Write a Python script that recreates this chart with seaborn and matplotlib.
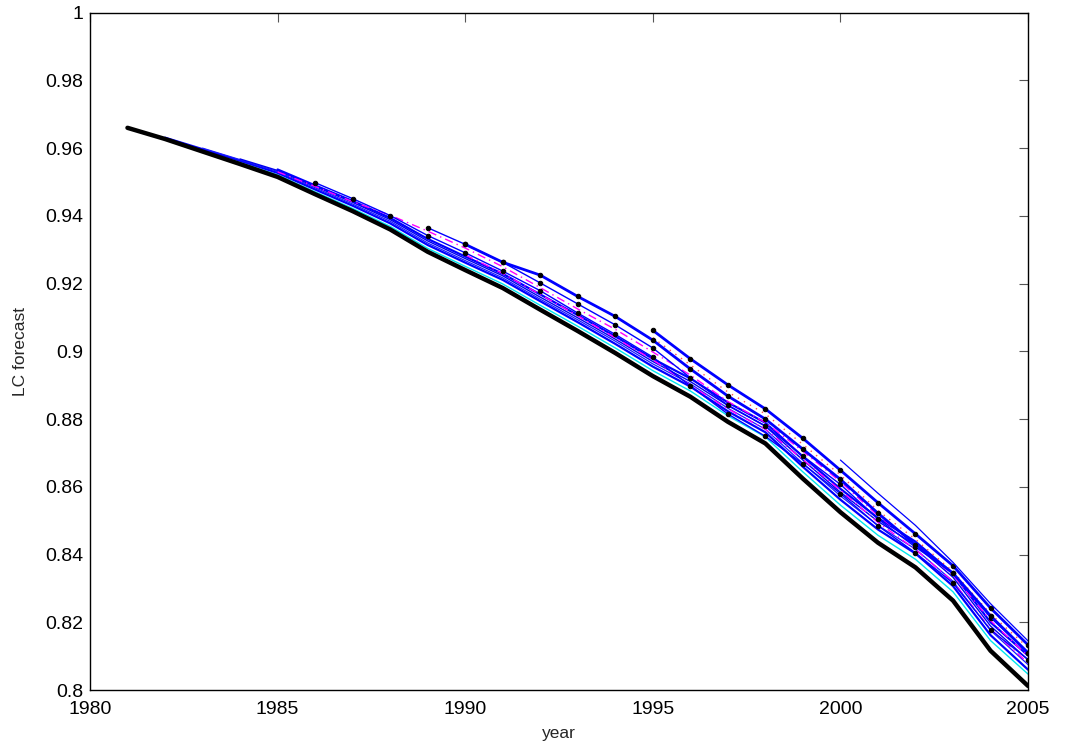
import matplotlib
matplotlib.use("Agg")
import matplotlib.pyplot as plt
import seaborn as sns
import pandas as pd

# ---- data ----
years_actual = list(range(1981, 2006))
actual = [0.9660, 0.9627, 0.9590, 0.9553, 0.9515, 0.9464, 0.9414, 0.9360, 0.9294, 0.9240,
          0.9187, 0.9123, 0.9060, 0.8995, 0.8927, 0.8866, 0.8792, 0.8728, 0.8624, 0.8525,
          0.8435, 0.8362, 0.8264, 0.8116, 0.8012]

cyan_years = list(range(1982, 2006))
cyan_vals = [0.9629, 0.9594, 0.9558, 0.9521, 0.9471, 0.9422, 0.9369, 0.9304, 0.9251, 0.9199,
             0.9136, 0.9074, 0.9010, 0.8943, 0.8883, 0.8810, 0.8747, 0.8644, 0.8546, 0.8457,
             0.8386, 0.8290, 0.8146, 0.8047]

b1_years = list(range(1982, 2006))
b1_vals = [0.9631, 0.9597, 0.9563, 0.9527, 0.9478, 0.9430, 0.9378, 0.9314, 0.9262, 0.9211,
           0.9148, 0.9086, 0.9022, 0.8955, 0.8896, 0.8823, 0.8761, 0.8659, 0.8562, 0.8474,
           0.8403, 0.8307, 0.8162, 0.8060]

b2_years = list(range(1983, 2006))
b2_vals = [0.9600, 0.9566, 0.9531, 0.9483, 0.9435, 0.9384, 0.9320, 0.9268, 0.9217, 0.9154,
           0.9093, 0.9030, 0.8963, 0.8904, 0.8832, 0.8770, 0.8669, 0.8573, 0.8486, 0.8416,
           0.8321, 0.8176, 0.8075]

b3_years = list(range(1984, 2006))
b3_vals = [0.9568, 0.9534, 0.9487, 0.9440, 0.9389, 0.9326, 0.9274, 0.9223, 0.9160, 0.9099,
           0.9036, 0.8970, 0.8911, 0.8840, 0.8779, 0.8679, 0.8584, 0.8498, 0.8428, 0.8333,
           0.8189, 0.8089]

b4_years = list(range(1985, 2006))
b4_vals = [0.9537, 0.9490, 0.9444, 0.9394, 0.9332, 0.9280, 0.9229, 0.9168, 0.9107, 0.9044,
           0.8978, 0.8920, 0.8849, 0.8789, 0.8689, 0.8594, 0.8508, 0.8438, 0.8344, 0.8200,
           0.8102]

m1_years = list(range(1985, 2006))
m1_vals = [0.9530, 0.9487, 0.9442, 0.9402, 0.9355, 0.9305, 0.9250, 0.9188, 0.9125, 0.9065,
           0.8998, 0.8930, 0.8852, 0.8790, 0.8705, 0.8615, 0.8515, 0.8430, 0.8340, 0.8205,
           0.8100]

m2_years = list(range(1990, 2006))
m2_vals = [0.9285, 0.9230, 0.9168, 0.9105, 0.9040, 0.8975, 0.8900, 0.8830, 0.8770, 0.8680,
           0.8590, 0.8495, 0.8415, 0.8320, 0.8180, 0.8080]

red_years = list(range(1995, 2006))
red_vals = [0.9040, 0.8960, 0.8880, 0.8815, 0.8725, 0.8635, 0.8530, 0.8445, 0.8350, 0.8225,
            0.8125]

d1_years = list(range(1986, 2006))
d1_vals = [0.9498, 0.9451, 0.9401, 0.9342, 0.9291, 0.9237, 0.9179, 0.9113, 0.9050, 0.8983,
           0.8898, 0.8815, 0.8749, 0.8668, 0.8580, 0.8485, 0.8405, 0.8316, 0.8178, 0.8090]

d2_years = list(range(1989, 2006))
d2_vals = [0.9365, 0.9316, 0.9263, 0.9202, 0.9140, 0.9078, 0.9010, 0.8922, 0.8841, 0.8780,
           0.8691, 0.8607, 0.8505, 0.8422, 0.8345, 0.8214, 0.8110]

d3_years = list(range(1990, 2006))
d3_vals = [0.9316, 0.9263, 0.9225, 0.9162, 0.9103, 0.9033, 0.8948, 0.8868, 0.8800, 0.8711,
           0.8622, 0.8522, 0.8429, 0.8345, 0.8219, 0.8110]

d4_years = list(range(1995, 2006))
d4_vals = [0.9062, 0.8978, 0.8901, 0.8830, 0.8743, 0.8649, 0.8553, 0.8461, 0.8367, 0.8242,
           0.8133]

t_years = list(range(2000, 2006))
t_vals = [0.8679, 0.8581, 0.8486, 0.8377, 0.8255, 0.8145]

x_ticks = [1980, 1985, 1990, 1995, 2000, 2005]
y_ticks = [0.8, 0.82, 0.84, 0.86, 0.88, 0.9, 0.92, 0.94, 0.96, 0.98, 1.0]
y_ticklabels = ["0.8", "0.82", "0.84", "0.86", "0.88", "0.9", "0.92", "0.94", "0.96", "0.98", "1"]

# ---- plot ----
sns.set_style("white")
plt.rcParams["font.family"] = ["Liberation Sans", "DejaVu Sans"]

fig = plt.figure(figsize=(10.67, 7.45), dpi=100)
ax = fig.add_axes([0.0843, 0.0738, 0.8792, 0.9092])

def draw(xs, ys, **kw):
    df = pd.DataFrame({"year": xs, "value": ys})
    sns.lineplot(data=df, x="year", y="value", ax=ax, estimator=None, sort=False, **kw)

draw(cyan_years, cyan_vals, color="#00e5ee", linewidth=1.0)
draw(b1_years, b1_vals, color="#0000ff", linewidth=1.6)
draw(b2_years, b2_vals, color="#1a1aff", linewidth=0.9)
draw(b3_years, b3_vals, color="#0000ee", linewidth=1.0)
draw(b4_years, b4_vals, color="#0000ff", linewidth=1.6)
draw(m2_years, m2_vals, color="#ff00ff", linewidth=1.0, linestyle=(0, (6, 3, 1, 3)))
draw(m1_years, m1_vals, color="#ff00ff", linewidth=1.0, linestyle=(0, (6, 3, 1, 3)))
draw(red_years, red_vals, color="#ff5050", linewidth=1.0, linestyle=(0, (1, 4)))
for xs, ys, lw in [(d1_years, d1_vals, 1.0), (d2_years, d2_vals, 1.0),
                   (d3_years, d3_vals, 2.0), (d4_years, d4_vals, 2.0)]:
    draw(xs, ys, color="#0000ff", linewidth=lw, marker="o", markersize=3.2,
         markerfacecolor="black", markeredgecolor="black")
draw(t_years, t_vals, color="#0000ff", linewidth=0.9)
draw(years_actual, actual, color="black", linewidth=3.2)

ax.set_xlim(1980, 2005)
ax.set_ylim(0.8, 1.0)
ax.set_xticks(x_ticks)
ax.set_xticklabels([str(v) for v in x_ticks])
ax.set_yticks(y_ticks)
ax.set_yticklabels(y_ticklabels)
ax.tick_params(direction="in", length=6.5, width=0.8, color="#555555",
               top=True, right=True, labelsize=14, labelcolor="black")
ax.tick_params(axis="x", pad=8)
ax.tick_params(axis="y", pad=5)
for s in ax.spines.values():
    s.set_visible(True)
    s.set_color("black")
    s.set_linewidth(1.0)
ax.set_xlabel("year", fontsize=12.5, labelpad=6)
ax.set_ylabel("LC forecast", fontsize=12.5, labelpad=12)
if ax.get_legend() is not None:
    ax.get_legend().remove()

fig.savefig("out.png", dpi=100)
